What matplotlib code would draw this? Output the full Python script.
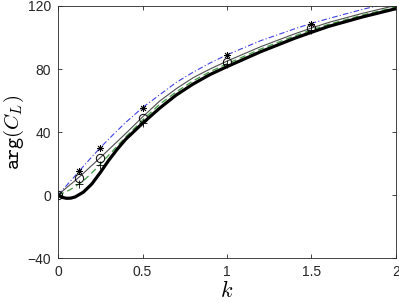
import matplotlib
matplotlib.use("Agg")
import matplotlib.pyplot as plt

plt.rcParams["mathtext.fontset"] = "cm"

# curve samples (k, arg(C_L) in degrees)
k = [0, 0.025, 0.05, 0.075, 0.1, 0.15, 0.2, 0.25, 0.3, 0.35, 0.4, 0.5,
     0.6, 0.7, 0.8, 0.9, 1.0, 1.2, 1.4, 1.5, 1.6, 1.8, 2.0]
thick = [0, -1.5, -2.1, -2.0, -1.3, 1.8, 7.0, 14.2, 22.0, 29.0, 35.3, 45.5,
         55.0, 63.5, 70.5, 76.5, 81.5, 91.0, 99.5, 103.3, 107.0, 113.0, 118.3]
thin = [0, 2.3, 4.6, 6.8, 9.0, 13.8, 18.8, 23.7, 28.8, 33.9, 39.0, 49.5,
        59.5, 67.5, 74.5, 80.0, 85.0, 94.2, 102.3, 106.0, 109.5, 115.3, 120.4]
green = [0, 1.0, 2.2, 3.6, 5.2, 9.0, 14.0, 19.5, 25.3, 31.0, 36.8, 47.5,
         57.5, 65.5, 72.5, 78.3, 83.3, 92.7, 101.0, 104.8, 108.3, 114.2, 119.4]
blue = [0, 3.0, 6.0, 9.0, 12.0, 18.2, 24.2, 30.0, 35.5, 40.8, 46.0, 55.5,
        63.5, 71.5, 78.0, 83.8, 89.0, 98.0, 105.5, 109.0, 112.0, 117.8, 123.0]

# discrete points
k_pts = [0, 0.125, 0.25, 0.5, 1.0, 1.5]
star_pts = [0, 15.0, 30.0, 55.0, 89.0, 108.5]
circ_pts = [0, 11.0, 23.5, 49.0, 84.7, 106.0]
plus_pts = [0, 7.0, 19.0, 46.0, 83.0, 105.0]

fig = plt.figure(figsize=(3.99, 3.03), dpi=100)
ax = fig.add_axes([0.1454, 0.1485, 0.847, 0.8317])

ax.plot(k, blue, color=(0.25, 0.25, 0.9), lw=0.8, ls=(0, (5, 2, 1, 2)))
ax.plot(k, thin, color=(0.3, 0.3, 0.3), lw=0.8)
ax.plot(k, green, color=(0.25, 0.6, 0.25), lw=0.9, ls=(0, (5, 3)))
ax.plot(k, thick, color="black", lw=2.3)

ax.plot(k_pts, star_pts, ls="none", marker=(8, 2, 0), ms=5, mec="black", mew=0.6)
ax.plot(k_pts, circ_pts, ls="none", marker="o", ms=6, mfc="none", mec="black", mew=0.7)
ax.plot(k_pts, plus_pts, ls="none", marker="+", ms=6, mec="black", mew=0.6)

ax.set_xlim(0, 2)
ax.set_ylim(-40, 120)
ax.set_xticks([0, 0.5, 1, 1.5, 2])
ax.set_xticklabels(["0", "0.5", "1", "1.5", "2"])
ax.set_yticks([-40, 0, 40, 80, 120])

for s in ax.spines.values():
    s.set_color((0.15, 0.15, 0.15))
    s.set_linewidth(0.6)
ax.tick_params(direction="in", top=True, right=True, length=3, width=0.6,
               labelsize=10, colors=(0.15, 0.15, 0.15), pad=5)
for lab in ax.get_xticklabels() + ax.get_yticklabels():
    lab.set_family("Liberation Sans")

ax.set_xlabel(r"$k$", fontsize=16, labelpad=1)
ax.set_ylabel(r"$\mathtt{arg}(C_L)$", fontsize=15, labelpad=1)

fig.savefig("out.png", dpi=100)
